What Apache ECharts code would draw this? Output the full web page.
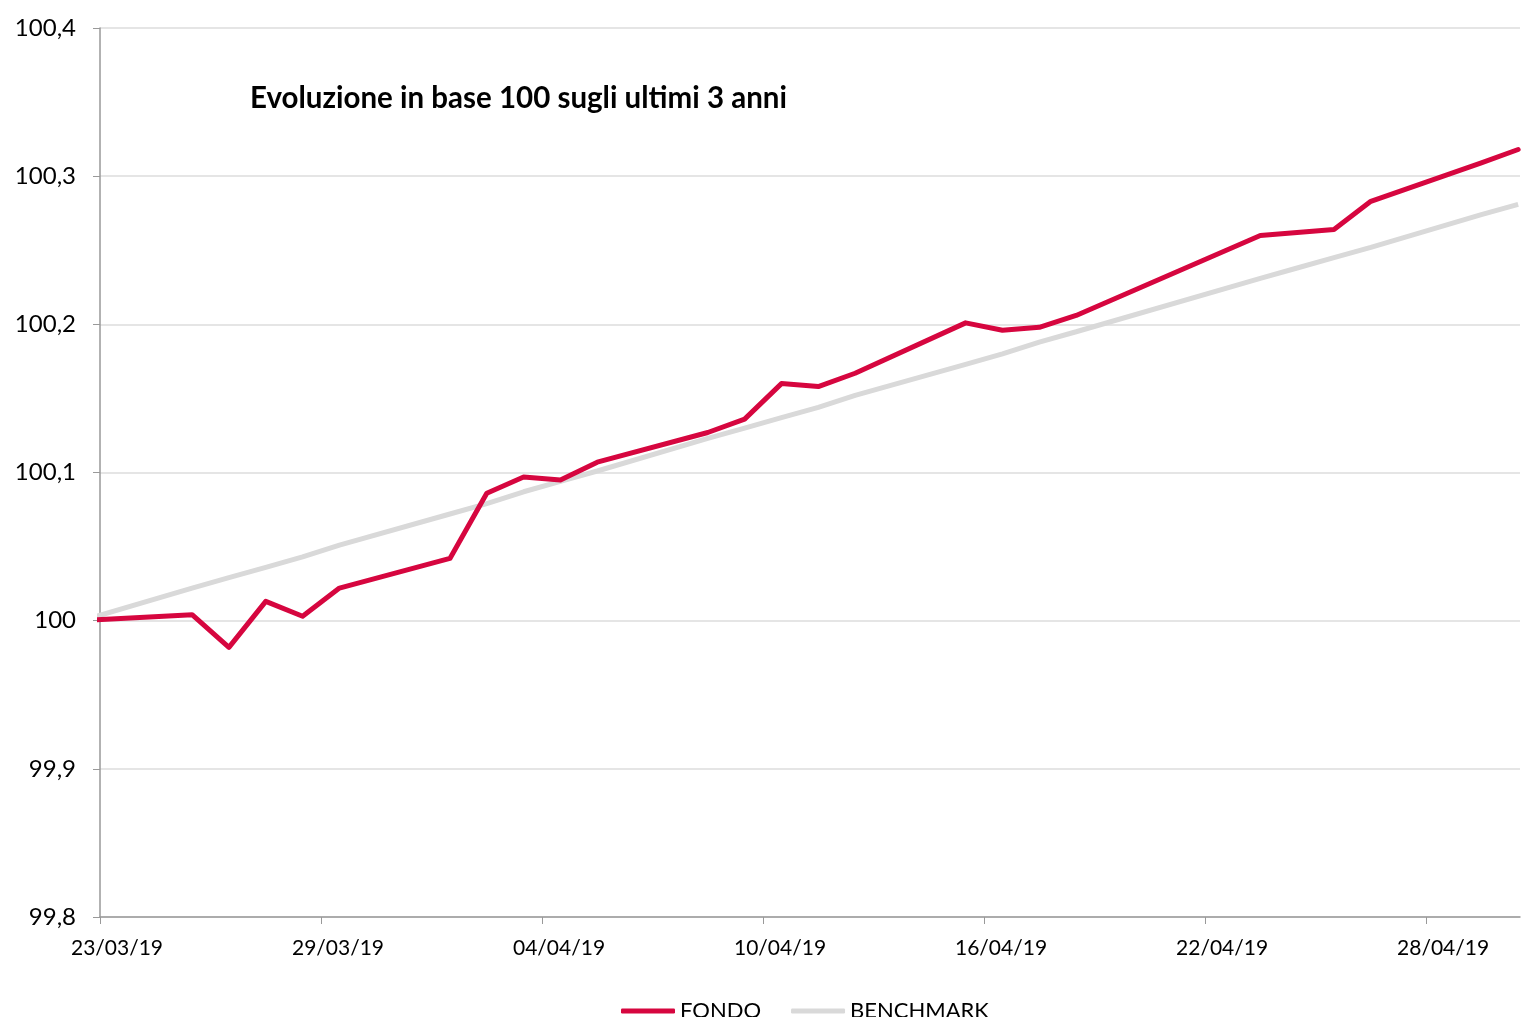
<!DOCTYPE html>
<html>
<head>
<meta charset="utf-8">
<script src="https://cdn.jsdelivr.net/npm/echarts@6/dist/echarts.min.js"></script>
<style>html,body{margin:0;padding:0;background:#fff;}#c{width:1521px;height:1017px;}</style>
</head>
<body>
<div id="c"></div>
<script>
const dates = ['22/03/19','25/03/19','26/03/19','27/03/19','28/03/19','29/03/19','01/04/19','02/04/19','03/04/19','04/04/19','05/04/19','08/04/19','09/04/19','10/04/19','11/04/19','12/04/19','15/04/19','16/04/19','17/04/19','18/04/19','23/04/19','24/04/19','25/04/19','26/04/19','29/04/19','30/04/19'];
const fondo = [100.000,100.004,99.982,100.013,100.003,100.022,100.042,100.086,100.097,100.095,100.107,100.127,100.136,100.160,100.158,100.167,100.201,100.196,100.198,100.206,100.260,100.262,100.264,100.283,100.309,100.318];
const benchmark = [100.000,100.022,100.029,100.036,100.043,100.051,100.072,100.079,100.087,100.094,100.101,100.123,100.130,100.137,100.144,100.152,100.173,100.180,100.188,100.195,100.231,100.238,100.245,100.252,100.274,100.281];
const xTickLabels = ['23/03/19','29/03/19','04/04/19','10/04/19','16/04/19','22/04/19','28/04/19'];
const yTickLabels = ['99,8','99,9','100','100,1','100,2','100,3','100,4'];
const seriesNames = ['FONDO','BENCHMARK'];
const title = 'Evoluzione in base 100 sugli ultimi 3 anni';

const DAY = 86400000;
function parseD(s){const p=s.split('/');return Date.UTC(2000+ +p[2], +p[1]-1, +p[0]);}
const origin = parseD(xTickLabels[0]);
const xs = dates.map(d => (parseD(d)-origin)/DAY + 0.5);
function fmtDate(v){const d=new Date(origin+Math.round(v)*DAY);const dd=String(d.getUTCDate()).padStart(2,'0');const mm=String(d.getUTCMonth()+1).padStart(2,'0');return dd+'/'+mm+'/'+String(d.getUTCFullYear()).slice(2);}

const font = 'Lato, "Open Sans", sans-serif';
const chart = echarts.init(document.getElementById('c'));
chart.setOption({
  animation:false,
  backgroundColor:'#fff',
  title:{text:title,left:245,top:78,textStyle:{fontFamily:font,fontWeight:'bold',fontSize:29.5,color:'#000'}},
  legend:{bottom:-10,left:616,itemWidth:54,itemHeight:5,itemGap:30,icon:'roundRect',
    textStyle:{fontFamily:font,fontSize:22,color:'#000'},
    data:seriesNames},
  grid:{left:100,right:1,top:28,bottom:100,containLabel:false},
  xAxis:{type:'value',min:0,max:38.55,interval:6,
    axisLine:{lineStyle:{color:'#999',width:1.5}},
    axisTick:{show:true,length:7,lineStyle:{color:'#999'}},
    axisLabel:{fontFamily:font,fontSize:21,color:'#000',margin:21,padding:[0,0,0,34],formatter:(v)=>{const i=Math.round(v/6);return xTickLabels[i]||fmtDate(v);},showMaxLabel:false},
    splitLine:{show:false}},
  yAxis:{type:'value',min:99.8,max:100.4,interval:0.1,
    axisLine:{show:true,lineStyle:{color:'#999',width:1.5}},
    axisTick:{show:true,length:7,lineStyle:{color:'#999'}},
    axisLabel:{fontFamily:font,fontSize:24,color:'#000',margin:24,formatter:(v)=>yTickLabels[Math.round((v-99.8)*10)]},
    splitLine:{show:true,lineStyle:{color:'#dcdcdc',width:1.5}}},
  series:[
    {name:seriesNames[1],type:'line',symbol:'none',clip:true,z:2,
      lineStyle:{color:'#d9d9d9',width:5},itemStyle:{color:'#d9d9d9'},
      data:xs.map((x,i)=>[x,benchmark[i]])},
    {name:seriesNames[0],type:'line',symbol:'none',clip:true,z:3,
      lineStyle:{color:'#d6063f',width:5,cap:'round',join:'round'},itemStyle:{color:'#d6063f'},
      data:xs.map((x,i)=>[x,fondo[i]])}
  ]
});
</script>
</body>
</html>
